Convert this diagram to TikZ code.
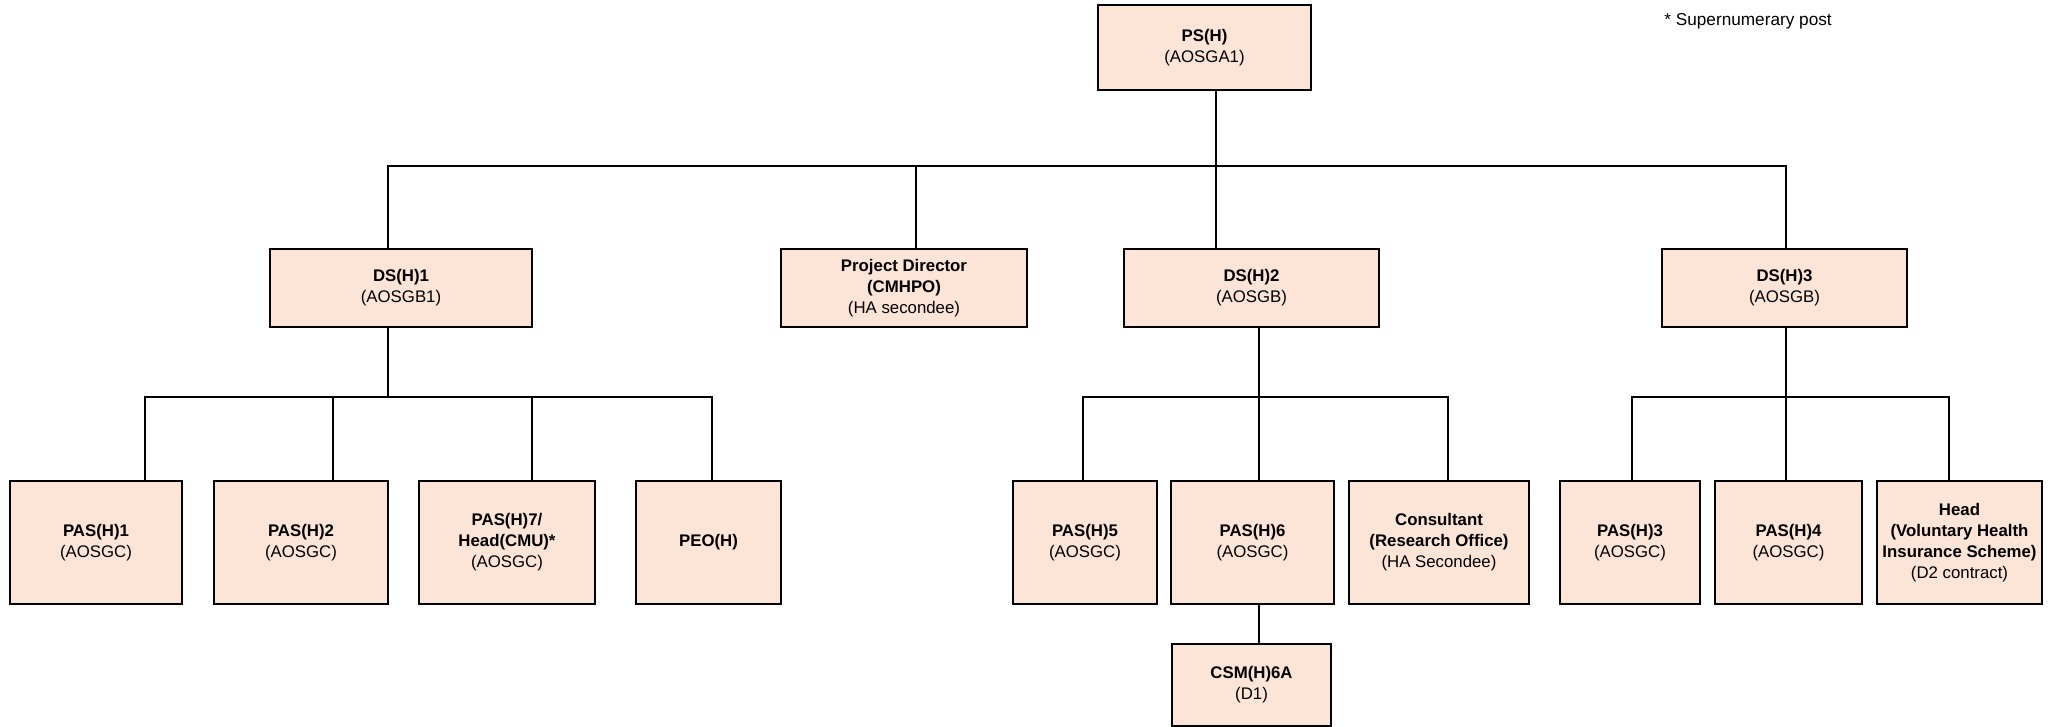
\documentclass[tikz,border=0pt]{standalone}
\usepackage{fontspec}
\setmainfont{Liberation Sans}
\usepackage{tikz}
\usetikzlibrary{positioning}
\definecolor{postfill}{RGB}{252,228,214}
\tikzset{
    post/.style={rectangle,draw=black,fill=postfill,line width=0.6pt,align=center,inner sep=0pt,font=\fontsize{8.4}{10.5}\selectfont},
    link/.style={draw=black,line width=0.6pt},
}

\begin{document}
\begin{tikzpicture}[x=0.5pt,y=-0.5pt]
\useasboundingbox (0,0) rectangle (2054,727);
% top
\node[post,minimum width=106.5pt,minimum height=42.5pt] (ps) at (1204.5,47.5) {\textbf{PS(H)}\\(AOSGA1)};
\node[anchor=west,inner sep=0pt,font=\fontsize{8.6}{10.5}\selectfont] (note) at (1664,21) {* Supernumerary post};
% second row
\node[post,minimum width=131pt,minimum height=39pt] (ds1) at (401,288) {\textbf{DS(H)1}\\(AOSGB1)};
\node[post,minimum width=123pt,minimum height=39pt] (pd) at (904,288) {\textbf{Project Director}\\\textbf{(CMHPO)}\\(HA secondee)};
\node[post,minimum width=127.5pt,minimum height=39pt] (ds2) at (1251.5,288) {\textbf{DS(H)2}\\(AOSGB)};
\node[post,minimum width=122.5pt,minimum height=39pt] (ds3) at (1784.5,288) {\textbf{DS(H)3}\\(AOSGB)};
% third row
\node[post,minimum width=86pt,minimum height=61.5pt] (pas1) at (96,542.5) {\textbf{PAS(H)1}\\(AOSGC)};
\node[post,minimum width=87pt,minimum height=61.5pt] (pas2) at (301,542.5) {\textbf{PAS(H)2}\\(AOSGC)};
\node[post,minimum width=88pt,minimum height=61.5pt] (pas7) at (507,542.5) {\textbf{PAS(H)7/}\\\textbf{Head(CMU)*}\\(AOSGC)};
\node[post,minimum width=72.5pt,minimum height=61.5pt] (peo) at (708.5,542.5) {\textbf{PEO(H)}};
\node[post,minimum width=72pt,minimum height=61.5pt] (pas5) at (1085,542.5) {\textbf{PAS(H)5}\\(AOSGC)};
\node[post,minimum width=81.5pt,minimum height=61.5pt] (pas6) at (1252.5,542.5) {\textbf{PAS(H)6}\\(AOSGC)};
\node[post,minimum width=90pt,minimum height=61.5pt] (cons) at (1439,542.5) {\textbf{Consultant}\\\textbf{(Research Office)}\\(HA Secondee)};
\node[post,minimum width=70pt,minimum height=61.5pt] (pas3) at (1630,542.5) {\textbf{PAS(H)3}\\(AOSGC)};
\node[post,minimum width=73.5pt,minimum height=61.5pt] (pas4) at (1788.5,542.5) {\textbf{PAS(H)4}\\(AOSGC)};
\node[post,minimum width=82.5pt,minimum height=61.5pt] (head) at (1959.5,542.5) {\textbf{Head}\\\textbf{(Voluntary Health}\\\textbf{Insurance Scheme)}\\(D2 contract)};
\node[post,minimum width=79.5pt,minimum height=41pt] (csm) at (1251.5,685) {\textbf{CSM(H)6A}\\(D1)};
% junctions
\coordinate (top) at (1216,166);
\coordinate (topl) at (388,166);
\coordinate (topp) at (916,166);
\coordinate (topr) at (1786,166);
\coordinate (l1) at (388,397);
\coordinate (l1a) at (145,397);
\coordinate (l1b) at (333,397);
\coordinate (l1c) at (532,397);
\coordinate (l1d) at (712,397);
\coordinate (l2) at (1259,397);
\coordinate (l2a) at (1083,397);
\coordinate (l2c) at (1448,397);
\coordinate (l3) at (1786,397);
\coordinate (l3a) at (1632,397);
\coordinate (l3c) at (1949,397);
% links
\draw[link] (ps.south -| top) -- (top |- ds2.north);
\draw[link] (topl |- ds1.north) -- (topl) -- (topr) -- (topr |- ds3.north);
\draw[link] (topp) -- (topp |- pd.north);
\draw[link] (ds1.south -| l1) -- (l1);
\draw[link] (l1a |- pas1.north) -- (l1a) -- (l1d) -- (l1d |- peo.north);
\draw[link] (l1b) -- (l1b |- pas2.north);
\draw[link] (l1c) -- (l1c |- pas7.north);
\draw[link] (ds2.south -| l2) -- (l2 |- pas6.north);
\draw[link] (l2a |- pas5.north) -- (l2a) -- (l2c) -- (l2c |- cons.north);
\draw[link] (pas6.south -| l2) -- (l2 |- csm.north);
\draw[link] (ds3.south -| l3) -- (l3 |- pas4.north);
\draw[link] (l3a |- pas3.north) -- (l3a) -- (l3c) -- (l3c |- head.north);
\end{tikzpicture}
\end{document}
